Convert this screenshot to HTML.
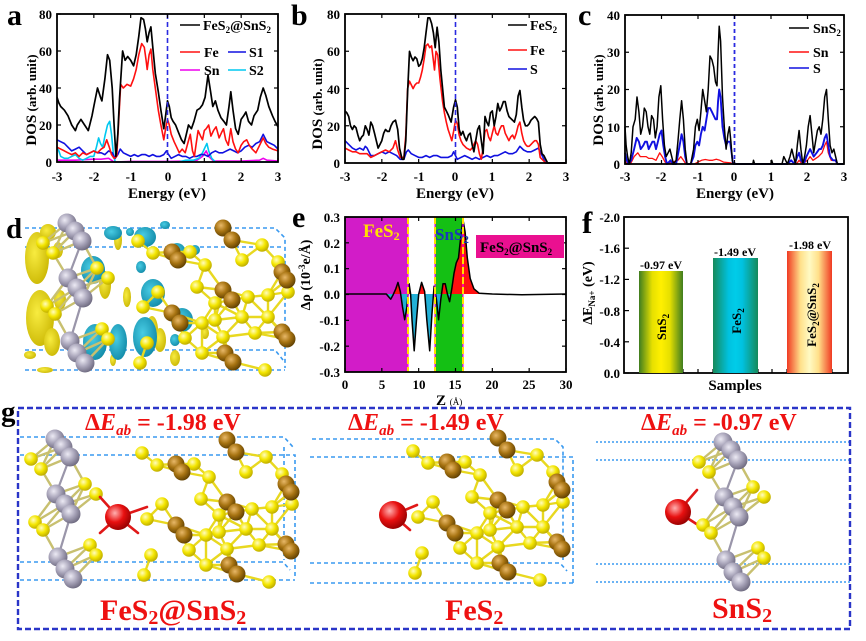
<!DOCTYPE html>
<html><head><meta charset="utf-8"><title>DOS figure</title>
<style>
html,body{margin:0;padding:0;background:#fff;width:866px;height:641px;overflow:hidden}
svg{display:block}
text{font-family:"Liberation Serif","DejaVu Serif",serif;font-weight:bold}
</style></head><body>
<svg id="s" xmlns="http://www.w3.org/2000/svg" width="866" height="641" viewBox="0 0 866 641">
<defs>
<radialGradient id="gSn" cx="0.38" cy="0.35" r="0.7"><stop offset="0" stop-color="#eceaf4"/><stop offset="0.5" stop-color="#a9a5ba"/><stop offset="1" stop-color="#6a667c"/></radialGradient>
<radialGradient id="gS" cx="0.38" cy="0.35" r="0.7"><stop offset="0" stop-color="#fffcc0"/><stop offset="0.5" stop-color="#f4e600"/><stop offset="1" stop-color="#b8a600"/></radialGradient>
<radialGradient id="gFe" cx="0.38" cy="0.35" r="0.7"><stop offset="0" stop-color="#e8b868"/><stop offset="0.5" stop-color="#a87412"/><stop offset="1" stop-color="#5a3c00"/></radialGradient>
<radialGradient id="gNa" cx="0.38" cy="0.35" r="0.7"><stop offset="0" stop-color="#ffb0b0"/><stop offset="0.5" stop-color="#e81010"/><stop offset="1" stop-color="#900000"/></radialGradient>
<radialGradient id="gY" cx="0.4" cy="0.4" r="0.7"><stop offset="0" stop-color="#f8ec40"/><stop offset="1" stop-color="#c8b400"/></radialGradient>
<radialGradient id="gC" cx="0.4" cy="0.4" r="0.7"><stop offset="0" stop-color="#48cce4"/><stop offset="1" stop-color="#0e86a4"/></radialGradient>
<linearGradient id="bSn" x1="0" x2="1" y1="0" y2="0"><stop offset="0" stop-color="#3f7d1f"/><stop offset="0.3" stop-color="#e6e000"/><stop offset="0.5" stop-color="#fff000"/><stop offset="0.7" stop-color="#e6e000"/><stop offset="1" stop-color="#3f7d1f"/></linearGradient>
<linearGradient id="bFe" x1="0" x2="1" y1="0" y2="0"><stop offset="0" stop-color="#168a5a"/><stop offset="0.35" stop-color="#00c2e0"/><stop offset="0.5" stop-color="#00cce8"/><stop offset="0.65" stop-color="#00c2e0"/><stop offset="1" stop-color="#168a5a"/></linearGradient>
<linearGradient id="bFS" x1="0" x2="1" y1="0" y2="0"><stop offset="0" stop-color="#f03a22"/><stop offset="0.3" stop-color="#ffe08a"/><stop offset="0.5" stop-color="#fffac4"/><stop offset="0.7" stop-color="#ffe08a"/><stop offset="1" stop-color="#f03a22"/></linearGradient>
<clipPath id="cUp"><rect x="345" y="217" width="221" height="77"/></clipPath>
<clipPath id="cDn"><rect x="345" y="294" width="221" height="78"/></clipPath>
</defs>
<rect width="866" height="641" fill="#fff"/>

<g id="pd"></g>
<g id="pg"></g>

<rect x="345" y="217" width="63" height="155" fill="#d21cc8"/>
<rect x="435" y="217" width="28" height="155" fill="#14c014"/>

<g id="pa"></g><g id="pb"></g><g id="pc"></g><g id="pe"></g><g id="pf"></g>

<!-- ===== Panel a ===== -->
<text x="7" y="25" font-size="30">a</text>
<g font-size="13" text-anchor="end">
<text x="52" y="19">80</text><text x="52" y="56">60</text><text x="52" y="93">40</text><text x="52" y="130">20</text><text x="52" y="167">0</text>
</g>
<g font-size="13" text-anchor="middle">
<text x="57" y="181">-3</text><text x="94" y="181">-2</text><text x="131" y="181">-1</text><text x="168" y="181">0</text><text x="204" y="181">1</text><text x="241" y="181">2</text><text x="278" y="181">3</text>
</g>
<text x="167" y="198" font-size="15" text-anchor="middle">Energy (eV)</text>
<text transform="translate(36,100) rotate(-90)" font-size="13" text-anchor="middle"><tspan font-size="15">DOS</tspan> (arb. unit)</text>
<g font-size="14">
<line x1="180" y1="25" x2="200" y2="25" stroke="#000" stroke-width="1.6"/>
<text x="203" y="30">FeS<tspan font-size="9" dy="3">2</tspan><tspan dy="-3">@SnS</tspan><tspan font-size="9" dy="3">2</tspan></text>
<line x1="180" y1="52" x2="200" y2="52" stroke="#ff1010" stroke-width="1.6"/><text x="204" y="57">Fe</text>
<line x1="228" y1="52" x2="246" y2="52" stroke="#1010e0" stroke-width="1.6"/><text x="249" y="57">S1</text>
<line x1="180" y1="70" x2="200" y2="70" stroke="#ee00ee" stroke-width="1.6"/><text x="204" y="75">Sn</text>
<line x1="228" y1="70" x2="246" y2="70" stroke="#00c8f0" stroke-width="1.6"/><text x="249" y="75">S2</text>
</g>

<!-- ===== Panel b ===== -->
<text x="291" y="25" font-size="30">b</text>
<g font-size="13" text-anchor="end">
<text x="340" y="19">80</text><text x="340" y="56">60</text><text x="340" y="94">40</text><text x="340" y="131">20</text><text x="340" y="168">0</text>
</g>
<g font-size="13" text-anchor="middle">
<text x="345" y="181">-3</text><text x="382" y="181">-2</text><text x="419" y="181">-1</text><text x="455" y="181">0</text><text x="492" y="181">1</text><text x="529" y="181">2</text><text x="566" y="181">3</text>
</g>
<text x="455" y="198" font-size="15" text-anchor="middle">Energy (eV)</text>
<text transform="translate(322,104) rotate(-90)" font-size="13" text-anchor="middle"><tspan font-size="15">DOS</tspan> (arb. unit)</text>
<g font-size="14">
<line x1="508" y1="25" x2="527" y2="25" stroke="#000" stroke-width="1.6"/>
<text x="530" y="30">FeS<tspan font-size="9" dy="3">2</tspan></text>
<line x1="508" y1="50" x2="527" y2="50" stroke="#ff1010" stroke-width="1.6"/><text x="530" y="55">Fe</text>
<line x1="508" y1="69" x2="527" y2="69" stroke="#1010e0" stroke-width="1.6"/><text x="530" y="74">S</text>
</g>

<!-- ===== Panel c ===== -->
<text x="578" y="25" font-size="30">c</text>
<g font-size="13" text-anchor="end">
<text x="620" y="20">40</text><text x="620" y="57">30</text><text x="620" y="94">20</text><text x="620" y="132">10</text><text x="620" y="169">0</text>
</g>
<g font-size="13" text-anchor="middle">
<text x="625" y="181">-3</text><text x="661" y="181">-2</text><text x="698" y="181">-1</text><text x="734" y="181">0</text><text x="771" y="181">1</text><text x="807" y="181">2</text><text x="844" y="181">3</text>
</g>
<text x="735" y="198" font-size="15" text-anchor="middle">Energy (eV)</text>
<text transform="translate(603,100) rotate(-90)" font-size="13" text-anchor="middle"><tspan font-size="15">DOS</tspan> (arb. unit)</text>
<g font-size="14">
<line x1="789" y1="28" x2="809" y2="28" stroke="#000" stroke-width="1.4"/>
<text x="813" y="33">SnS<tspan font-size="9" dy="3">2</tspan></text>
<line x1="789" y1="52" x2="809" y2="52" stroke="#ff1010" stroke-width="1.6"/><text x="813" y="57">Sn</text>
<line x1="789" y1="68" x2="809" y2="68" stroke="#1010e0" stroke-width="1.6"/><text x="813" y="73">S</text>
</g>

<!-- ===== Panel d label ===== -->
<text x="6" y="238" font-size="29">d</text>

<!-- ===== Panel e ===== -->
<text x="292" y="227" font-size="30">e</text>
<g font-size="13" text-anchor="end">
<text x="340" y="222">0.3</text><text x="340" y="248">0.2</text><text x="340" y="273">0.1</text><text x="340" y="299">0.0</text><text x="340" y="325">-0.1</text><text x="340" y="351">-0.2</text><text x="340" y="377">-0.3</text>
</g>
<g font-size="13" text-anchor="middle">
<text x="345" y="389">0</text><text x="382" y="389">5</text><text x="419" y="389">10</text><text x="455" y="389">15</text><text x="492" y="389">20</text><text x="529" y="389">25</text><text x="566" y="389">30</text>
</g>
<text x="436" y="405" font-size="15">Z <tspan font-size="9" font-weight="normal">(Å)</tspan></text>
<text transform="translate(310,275) rotate(-90)" font-size="14" text-anchor="middle">Δρ (10<tspan font-size="9" dy="-5">-3</tspan><tspan dy="5">e/Å)</tspan></text>
<text x="363" y="237" font-size="19" fill="#ffe000">FeS<tspan font-size="12" dy="3">2</tspan></text>
<text x="435" y="240" font-size="17" fill="#1a3ab8">SnS<tspan font-size="11" dy="3">2</tspan></text>
<rect x="476" y="235" width="88" height="23" fill="#ea1090"/>
<text x="480" y="252" font-size="15" fill="#000">FeS<tspan font-size="9" dy="3">2</tspan><tspan dy="-3">@SnS</tspan><tspan font-size="9" dy="3">2</tspan></text>

<!-- ===== Panel f ===== -->
<text x="582" y="233" font-size="31">f</text>
<g font-size="13" text-anchor="end">
<text x="620" y="222">-2.0</text><text x="620" y="253">-1.6</text><text x="620" y="284">-1.2</text><text x="620" y="316">-0.8</text><text x="620" y="347">-0.4</text><text x="620" y="378">0.0</text>
</g>
<rect x="639" y="271" width="44" height="102" fill="url(#bSn)"/>
<rect x="713" y="258" width="45" height="115" fill="url(#bFe)"/>
<rect x="787" y="251" width="45" height="122" fill="url(#bFS)"/>
<g font-size="12" text-anchor="middle">
<text x="661" y="269">-0.97 eV</text><text x="735" y="256">-1.49 eV</text><text x="810" y="249">-1.98 eV</text>
</g>
<g font-size="13" text-anchor="middle">
<text transform="translate(666,327) rotate(-90)">SnS<tspan font-size="9" dy="3">2</tspan></text>
<text transform="translate(741,321) rotate(-90)">FeS<tspan font-size="9" dy="3">2</tspan></text>
<text transform="translate(816,315) rotate(-90)">FeS<tspan font-size="9" dy="3">2</tspan><tspan dy="-3">@SnS</tspan><tspan font-size="9" dy="3">2</tspan></text>
</g>
<text x="735" y="390" font-size="15" text-anchor="middle">Samples</text>
<text transform="translate(592,293) rotate(-90)" font-size="14" text-anchor="middle">ΔE<tspan font-size="9" dy="3">Na+</tspan><tspan dy="-3"> (eV)</tspan></text>

<!-- ===== Panel g ===== -->
<rect x="18" y="408" width="832" height="221" fill="none" stroke="#2a35c8" stroke-width="2.4" stroke-dasharray="6,3"/>
<text x="1" y="421" font-size="29">g</text>
<g font-size="24" fill="#ee1111">
<text x="85" y="430">Δ<tspan font-style="italic">E</tspan><tspan font-style="italic" font-size="15" dy="5">ab</tspan><tspan dy="-5"> = -1.98 eV</tspan></text>
<text x="348" y="430">Δ<tspan font-style="italic">E</tspan><tspan font-style="italic" font-size="15" dy="5">ab</tspan><tspan dy="-5"> = -1.49 eV</tspan></text>
<text x="641" y="430">Δ<tspan font-style="italic">E</tspan><tspan font-style="italic" font-size="15" dy="5">ab</tspan><tspan dy="-5"> = -0.97 eV</tspan></text>
</g>
<g font-size="30" fill="#ee1111">
<text x="100" y="620">FeS<tspan font-size="20" dy="4">2</tspan><tspan dy="-4">@SnS</tspan><tspan font-size="20" dy="4">2</tspan></text>
<text x="445" y="620">FeS<tspan font-size="20" dy="4">2</tspan></text>
<text x="712" y="618">SnS<tspan font-size="20" dy="4">2</tspan></text>
</g>
</svg>
<script>
const NS="http://www.w3.org/2000/svg";
function el(t,a,p){const e=document.createElementNS(NS,t);for(const k in a)e.setAttribute(k,a[k]);p.appendChild(e);return e;}
function P(d,fx,fy){const s=[];for(let i=0;i<d.length;i+=2)s.push(fx(d[i]).toFixed(1)+","+fy(d[i+1]).toFixed(1));return s.join(" ");}
function L(g,d,fx,fy,c,w){el("polyline",{points:P(d,fx,fy),fill:"none",stroke:c,"stroke-width":w||1.6,"stroke-linejoin":"round"},g);}
function frame(g,x0,y0,x1,y1){el("rect",{x:x0,y:y0,width:x1-x0,height:y1-y0,fill:"none",stroke:"#000","stroke-width":1.8},g);}
function ticks(g,x0,x1,y0,y1,xs,ys,len){
 xs.forEach(x=>{el("line",{x1:x,y1:y1,x2:x,y2:y1-len,stroke:"#000","stroke-width":1.2},g);el("line",{x1:x,y1:y0,x2:x,y2:y0+len,stroke:"#000","stroke-width":1.2},g);});
 ys.forEach(y=>{el("line",{x1:x0,y1:y,x2:x0+len,y2:y,stroke:"#000","stroke-width":1.2},g);el("line",{x1:x1,y1:y,x2:x1-len,y2:y,stroke:"#000","stroke-width":1.2},g);});
}
function rng(a,b,n){const r=[];for(let i=0;i<=n;i++)r.push(a+(b-a)*i/n);return r;}

const aBlack=[-3,35,-2.95,32,-2.9,30,-2.8,28,-2.7,25,-2.6,20,-2.5,17,-2.45,20,-2.35,23,-2.25,20,-2.15,17,-2.05,25,-2.0,30,-1.9,40,-1.82,35,-1.78,33,-1.7,45,-1.63,58,-1.57,55,-1.5,40,-1.45,20,-1.4,3,-1.35,15,-1.3,35,-1.22,60,-1.15,55,-1.08,57,-1.0,55,-0.92,52,-0.85,58,-0.78,68,-0.72,78,-0.65,77,-0.6,72,-0.55,65,-0.5,70,-0.45,73,-0.4,62,-0.33,48,-0.25,38,-0.18,28,-0.1,18,-0.05,25,0,33,0.05,30,0.1,24,0.15,22,0.22,20,0.3,16,0.38,12,0.45,10,0.5,14,0.57,20,0.65,18,0.72,22,0.8,28,0.88,29,0.95,31,1.02,35,1.1,47,1.17,38,1.23,30,1.3,33,1.37,28,1.45,24,1.53,22,1.6,20,1.67,30,1.72,38,1.78,28,1.85,18,1.92,15,2.0,23,2.07,25,2.13,27,2.2,22,2.28,20,2.35,25,2.45,28,2.52,35,2.6,40,2.67,36,2.75,30,2.85,25,2.92,22,3.0,19];
const aRed=[-3,8,-2.9,7,-2.8,6,-2.7,5,-2.6,4,-2.5,5,-2.4,3,-2.3,5,-2.2,4,-2.1,5,-2.0,6,-1.9,5,-1.8,7,-1.72,8,-1.65,12,-1.58,8,-1.52,4,-1.45,2,-1.38,3,-1.33,20,-1.27,42,-1.2,40,-1.1,42,-1.0,41,-0.92,45,-0.85,50,-0.78,58,-0.7,64,-0.63,62,-0.58,55,-0.55,50,-0.5,58,-0.45,61,-0.4,50,-0.33,40,-0.25,28,-0.18,20,-0.1,12,-0.05,18,0,23,0.05,20,0.1,15,0.18,11,0.25,8,0.32,5,0.4,7,0.48,5,0.55,10,0.62,15,0.68,6,0.73,3,0.78,10,0.83,17,0.9,14,0.95,12,1.0,17,1.05,18,1.12,20,1.18,14,1.25,17,1.32,19,1.4,13,1.47,16,1.52,18,1.58,12,1.65,9,1.72,18,1.78,11,1.85,7,1.92,5,2.0,9,2.07,11,2.15,12,2.22,9,2.3,7,2.4,5,2.5,9,2.6,13,2.67,10,2.75,8,2.85,7,3.0,6];
const aBlue=[-3,12,-2.9,11,-2.8,10,-2.7,8,-2.6,6,-2.5,7,-2.4,8,-2.3,6,-2.2,4,-2.1,5,-2.0,6,-1.9,5,-1.8,5,-1.7,4,-1.6,6,-1.5,5,-1.42,2,-1.35,4,-1.28,7,-1.2,5,-1.1,4,-1.0,3,-0.9,4,-0.8,3,-0.7,4,-0.6,4,-0.5,3,-0.4,4,-0.3,3,-0.2,3,-0.1,4,-0.03,6,0.03,4,0.1,2,0.2,3,0.3,4,0.4,3,0.5,3,0.6,2,0.7,3,0.8,3,0.9,4,1.0,4,1.1,3,1.2,5,1.3,6,1.4,5,1.5,5,1.6,6,1.7,7,1.8,6,1.9,5,2.0,6,2.1,8,2.2,9,2.3,8,2.4,10,2.5,11,2.6,15,2.7,11,2.8,10,2.9,9,3.0,7];
const aCyan=[-3,8,-2.95,6,-2.9,3,-2.8,2,-2.7,2,-2.6,3,-2.5,4,-2.4,2,-2.3,1,-2.2,2,-2.1,3,-2.0,3,-1.93,8,-1.87,13,-1.82,10,-1.76,8,-1.7,14,-1.63,20,-1.57,22,-1.52,15,-1.47,5,-1.42,0,-0.5,0,0.3,0,0.5,1,0.7,1,0.85,2,0.95,5,1.02,8,1.07,10,1.12,6,1.2,2,1.3,0,3,0];
const aMag=[-3,1,-2.5,1,-2.0,1.5,-1.8,1.5,-1.6,2,-1.45,0,-1,0.3,0,0.3,0.5,0.5,0.8,1,0.95,3,1.05,6,1.12,3,1.25,0.5,1.5,0.5,2.0,0.5,2.5,1,2.6,2,2.7,1,3,0.5];
(function(){const g=document.getElementById("pa");const fx=E=>57+(E+3)*36.83,fy=v=>162-v*1.85;
L(g,aMag,fx,fy,"#ee00ee");L(g,aCyan,fx,fy,"#00c8f0");L(g,aBlue,fx,fy,"#1010e0");L(g,aRed,fx,fy,"#ff1010");L(g,aBlack,fx,fy,"#000",1.7);
el("line",{x1:167.5,y1:14,x2:167.5,y2:162,stroke:"#2a2ae0","stroke-width":1.6,"stroke-dasharray":"5,3"},g);
frame(g,57,14,278,162);ticks(g,57,278,14,162,rng(57,278,6),rng(14,162,4),4);})();

const bBlack=[-3,28,-2.95,27,-2.9,25,-2.85,20,-2.8,18,-2.75,20,-2.7,19,-2.65,15,-2.6,12,-2.55,14,-2.5,15,-2.45,20,-2.4,18,-2.35,15,-2.3,22,-2.25,20,-2.2,16,-2.15,12,-2.1,8,-2.05,10,-2.0,12,-1.95,16,-1.9,18,-1.85,17,-1.8,17,-1.75,20,-1.7,22,-1.63,23,-1.57,18,-1.52,8,-1.45,2,-1.4,2,-1.35,12,-1.3,38,-1.25,60,-1.2,57,-1.15,55,-1.1,57,-1.05,56,-1.0,52,-0.95,53,-0.9,56,-0.85,62,-0.8,70,-0.75,78,-0.7,78,-0.65,75,-0.6,70,-0.55,62,-0.5,73,-0.45,65,-0.4,50,-0.35,40,-0.3,30,-0.25,28,-0.2,26,-0.12,22,-0.05,30,0,34,0.05,30,0.1,18,0.15,15,0.2,17,0.25,14,0.3,12,0.35,15,0.4,16,0.45,10,0.5,6,0.55,12,0.6,18,0.65,20,0.7,12,0.75,5,0.8,25,0.85,22,0.9,20,0.95,27,1.0,28,1.05,20,1.1,25,1.15,32,1.2,28,1.25,30,1.3,33,1.35,33,1.4,28,1.45,25,1.5,24,1.55,23,1.6,22,1.65,26,1.7,36,1.75,39,1.8,30,1.85,23,1.9,20,1.95,20,2.0,21,2.05,23,2.1,24,2.15,25,2.2,24,2.25,22,2.3,10,2.35,5,2.4,4,2.45,2,2.5,0,3,0];
const bRed=[-3,8,-2.9,7,-2.8,6,-2.7,6,-2.6,5,-2.5,5,-2.4,5,-2.3,3,-2.2,4,-2.1,5,-2.0,6,-1.9,7,-1.8,6,-1.7,8,-1.63,12,-1.57,7,-1.5,3,-1.4,3,-1.35,15,-1.3,40,-1.25,44,-1.2,42,-1.15,40,-1.1,42,-1.05,43,-1.0,43,-0.95,46,-0.9,50,-0.85,56,-0.8,63,-0.75,64,-0.7,62,-0.65,63,-0.6,55,-0.57,50,-0.53,60,-0.48,58,-0.42,45,-0.35,33,-0.3,27,-0.25,22,-0.2,18,-0.15,15,-0.1,12,-0.05,17,0,23,0.05,21,0.1,15,0.15,12,0.2,10,0.3,8,0.4,7,0.45,8,0.5,10,0.55,12,0.6,10,0.65,5,0.7,2,0.75,8,0.8,17,0.85,18,0.9,14,0.95,12,1.0,16,1.05,20,1.1,16,1.15,15,1.2,18,1.25,20,1.3,20,1.35,16,1.4,14,1.45,12,1.5,14,1.55,15,1.6,13,1.65,16,1.7,20,1.75,22,1.8,16,1.85,12,1.9,10,1.95,9,2.0,9,2.05,10,2.1,11,2.15,12,2.2,12,2.25,10,2.3,3,2.4,1,2.45,0,3,0];
const bBlue=[-3,12,-2.9,10,-2.8,8,-2.7,7,-2.6,8,-2.5,7,-2.45,9,-2.4,8,-2.3,4,-2.2,4,-2.1,5,-2.0,6,-1.9,5,-1.8,6,-1.7,5,-1.6,4,-1.5,2,-1.4,2,-1.33,6,-1.28,7,-1.2,5,-1.1,4,-1.0,3,-0.9,3,-0.8,4,-0.7,3,-0.6,4,-0.5,4,-0.4,3,-0.3,3,-0.2,3,-0.1,4,-0.05,6,0,4,0.05,2,0.15,3,0.25,4,0.35,3,0.45,2,0.55,3,0.65,2,0.75,3,0.85,4,0.95,3,1.05,4,1.15,4,1.25,5,1.35,6,1.45,5,1.55,5,1.65,6,1.75,9,1.85,7,1.95,6,2.05,6,2.15,7,2.25,8,2.3,6,2.4,2,2.45,0,3,0];
(function(){const g=document.getElementById("pb");const fx=E=>345+(E+3)*36.83,fy=v=>163-v*1.86;
L(g,bBlue,fx,fy,"#1010e0");L(g,bRed,fx,fy,"#ff1010");L(g,bBlack,fx,fy,"#000",1.7);
el("line",{x1:455.5,y1:14,x2:455.5,y2:163,stroke:"#2a2ae0","stroke-width":1.6,"stroke-dasharray":"5,3"},g);
frame(g,345,14,566,163);ticks(g,345,566,14,163,rng(345,566,6),rng(14,163,4),4);})();

const cBlack=[-3,10,-2.97,5,-2.93,2,-2.88,0,-2.83,3,-2.78,10,-2.72,12,-2.67,18,-2.62,14,-2.57,8,-2.52,10,-2.47,15,-2.42,14,-2.37,10,-2.32,8,-2.27,13,-2.22,12,-2.17,7,-2.12,10,-2.07,18,-2.02,21,-1.97,12,-1.92,5,-1.87,2,-1.82,3,-1.77,4,-1.72,2,-1.67,0,-1.6,1,-1.55,6,-1.5,12,-1.45,17,-1.4,12,-1.35,4,-1.3,0,-1.2,0,-1.12,4,-1.07,10,-1.02,12,-0.97,9,-0.92,14,-0.87,20,-0.82,17,-0.77,14,-0.72,20,-0.67,29,-0.62,28,-0.57,26,-0.52,22,-0.48,21,-0.45,30,-0.42,37,-0.38,33,-0.33,18,-0.28,10,-0.23,4,-0.18,8,-0.14,10,-0.1,6,-0.06,1,-0.03,0,0.5,0,0.52,1,0.55,0,1.0,0,1.02,1,1.05,0,1.3,0,1.35,2,1.4,1,1.45,0,1.52,2,1.57,4,1.62,2,1.67,0,1.72,5,1.77,9,1.82,4,1.87,0,1.92,2,1.97,5,2.02,10,2.07,13,2.12,8,2.17,3,2.22,6,2.27,9,2.32,10,2.37,8,2.42,12,2.47,18,2.52,20,2.57,12,2.62,5,2.67,3,2.72,4,2.77,2,2.82,0,3,0];
const cBlue=[-3,3,-2.95,1,-2.9,0,-2.83,1,-2.75,4,-2.68,7,-2.62,6,-2.57,4,-2.5,5,-2.45,6,-2.4,6,-2.35,4,-2.3,5,-2.25,6,-2.2,6,-2.15,4,-2.1,6,-2.05,8,-2.0,9,-1.95,5,-1.9,2,-1.85,0,-1.75,1,-1.7,0,-1.6,0,-1.52,4,-1.45,8,-1.4,6,-1.35,2,-1.3,0,-1.2,0,-1.12,2,-1.07,5,-1.02,6,-0.97,5,-0.92,8,-0.87,10,-0.82,9,-0.77,12,-0.72,15,-0.67,15,-0.62,14,-0.57,13,-0.52,12,-0.48,12,-0.45,17,-0.42,20,-0.38,18,-0.33,10,-0.28,7,-0.23,5,-0.18,6,-0.12,6,-0.08,3,-0.04,0,1.45,0,1.55,1,1.65,0,1.72,2,1.77,3,1.82,1,1.9,0,1.97,2,2.02,3,2.07,4,2.12,3,2.17,2,2.25,3,2.32,4,2.37,4,2.42,5,2.47,7,2.52,8,2.57,5,2.62,2,2.7,1,2.77,1,2.82,0,3,0];
const cRed=[-3,1,-2.95,0,-2.85,0,-2.75,2,-2.65,3,-2.58,2,-2.5,2,-2.42,2,-2.35,1.5,-2.25,1.5,-2.15,1,-2.05,3,-1.98,2,-1.9,0.5,-1.85,0,-1.55,1,-1.47,2,-1.4,1,-1.33,0,-1.1,0,-1.0,0.5,-0.9,1,-0.8,1.2,-0.7,1,-0.6,1,-0.5,1.3,-0.4,1,-0.3,0.5,-0.1,0.3,-0.05,0,1.7,0,1.77,1,1.85,0,2.0,1,2.07,2,2.15,1,2.3,2,2.4,3,2.47,5,2.52,6,2.57,3,2.65,1,2.75,1,2.82,0,3,0];
(function(){const g=document.getElementById("pc");const fx=E=>625+(E+3)*36.5,fy=v=>164-v*3.725;
L(g,cRed,fx,fy,"#ff1010",1.3);L(g,cBlue,fx,fy,"#1010e0",1.9);L(g,cBlack,fx,fy,"#000",1.5);
el("line",{x1:734.5,y1:15,x2:734.5,y2:164,stroke:"#2a2ae0","stroke-width":1.8,"stroke-dasharray":"4,3"},g);
frame(g,625,15,844,164);ticks(g,625,844,15,164,rng(625,844,6),rng(15,164,4),4);})();

const eData=[0,0,5.6,0,5.9,-0.01,6.2,-0.02,6.5,-0.005,6.9,0.02,7.2,0.045,7.5,0.01,7.8,-0.05,8.1,-0.1,8.4,-0.05,8.7,0.04,8.9,0.0,9.1,-0.1,9.4,-0.22,9.7,-0.1,10.0,0.0,10.4,0.045,10.8,0.01,11.1,-0.1,11.5,-0.22,11.8,-0.08,12.1,0.03,12.4,-0.02,12.7,-0.1,13.0,-0.02,13.3,0.04,13.6,0.04,13.9,0.0,14.2,-0.03,14.5,0.02,14.8,0.08,15.1,0.12,15.4,0.14,15.7,0.22,16.0,0.29,16.3,0.24,16.6,0.14,17.0,0.06,17.5,0.02,18.2,0.003,20,0,24,-0.003,30,0];
(function(){const g=document.getElementById("pe");const fx=z=>345+z*7.367,fy=v=>294-v*258.3;
const poly="345,294 "+P(eData,fx,fy)+" 566,294";
el("polygon",{points:poly,fill:"#ff1010","clip-path":"url(#cUp)"},g);
el("polygon",{points:poly,fill:"#22b0d6","clip-path":"url(#cDn)"},g);
L(g,eData,fx,fy,"#000",1.5);
[408,435,463].forEach(x=>{el("line",{x1:x,y1:217,x2:x,y2:372,stroke:"#ff00ff","stroke-width":1.2},g);el("line",{x1:x,y1:217,x2:x,y2:372,stroke:"#ffe000","stroke-width":2,"stroke-dasharray":"7,3"},g);});
frame(g,345,217,566,372);ticks(g,345,566,217,372,rng(345,566,6),rng(217,372,6),4);})();

(function(){const g=document.getElementById("pf");
frame(g,624,217,848,373);
rng(217,373,5).forEach(y=>el("line",{x1:624,y1:y,x2:629,y2:y,stroke:"#000","stroke-width":1.2},g));
[640,661,683,698,713,735,758,772,787,810,832].forEach(x=>el("line",{x1:x,y1:373,x2:x,y2:369,stroke:"#000","stroke-width":1.2},g));})();

const FE=[[498,438],[507,450],[447,462],[453,470],[498,500],[507,510],[447,523],[455,533],[557,482],[562,490],[557,542],[562,549],[500,563],[508,572]];
const SS=[[413,451],[428,463],[465,462],[480,475],[517,470],[537,455],[553,472],[563,502],[543,505],[523,507],[490,513],[472,497],[433,502],[418,517],[422,553],[415,573],[477,533],[460,548],[498,547],[530,543],[517,527],[543,527],[477,563],[540,580],[490,530]];
const SN=[[723,442],[731,450],[738,460],[724,497],[733,507],[739,517],[726,560],[733,572],[741,582]];
const SC=[[699,462],[709,472],[753,487],[764,497],[703,525],[711,533],[758,548],[764,558]];
function atom(g,x,y,r,t){el("circle",{cx:x,cy:y,r:r,fill:"url(#g"+t+")"},g);}
function bond(g,a,b,c,w){el("line",{x1:a[0],y1:a[1],x2:b[0],y2:b[1],stroke:c,"stroke-width":w||2.4,"stroke-linecap":"round"},g);}
function cluster(g,dx,dy){
 const fe=FE.map(p=>[p[0]+dx,p[1]+dy]),s=SS.map(p=>[p[0]+dx,p[1]+dy]);const all=fe.concat(s);
 for(let i=0;i<all.length;i++)for(let j=i+1;j<all.length;j++){const d=Math.hypot(all[i][0]-all[j][0],all[i][1]-all[j][1]);if(d>16&&d<33)bond(g,all[i],all[j],(i<fe.length&&j<fe.length)?"#b08030":"#e8d820",2.4);}
 s.forEach(p=>atom(g,p[0],p[1],6.8,"S"));fe.forEach(p=>atom(g,p[0],p[1],8.5,"Fe"));}
function column(g,dx,dy){
 const sn=SN.map(p=>[p[0]+dx,p[1]+dy]),sc=SC.map(p=>[p[0]+dx,p[1]+dy]);
 sn.forEach(a=>sc.forEach(b=>{const d=Math.hypot(a[0]-b[0],a[1]-b[1]);if(d<36)bond(g,a,b,"#c8c070",2.4);}));
 bond(g,sn[2],sn[3],"#9a96aa",2.2);bond(g,sn[5],sn[6],"#9a96aa",2.2);
 sc.forEach(p=>atom(g,p[0],p[1],6.8,"S"));sn.forEach(p=>atom(g,p[0],p[1],9.5,"Sn"));}
function dash(g,d,c,w,da){el("path",{d:d,fill:"none",stroke:c||"#3a9af0","stroke-width":w||1.6,"stroke-dasharray":da||"4,3"},g);}

(function(){const g=document.getElementById("pd");
dash(g,"M25,228 L275,228 L285,238 L285,368");dash(g,"M25,247 L282,247");dash(g,"M25,350 L275,350 L283,360");dash(g,"M25,370 L285,370");
const Y=[[37,258,12,26],[40,318,14,28],[52,342,8,14],[48,232,8,8],[30,355,6,4],[45,370,8,3],[118,240,4,10],[105,285,6,14],[127,297,4,10],[152,330,6,14],[160,340,6,12],[100,342,5,16],[175,358,5,8],[205,333,4,6],[60,300,6,10],[113,360,3,6],[58,250,5,8]];
const C=[[93,270,12,14],[95,342,12,18],[118,342,9,18],[153,293,12,14],[145,337,12,20],[113,233,9,7],[145,237,11,10],[141,267,5,6],[177,253,9,10],[182,320,11,12],[195,250,5,5],[165,225,5,4],[175,340,5,6],[130,232,4,4]];
Y.forEach(b=>el("ellipse",{cx:b[0],cy:b[1],rx:b[2],ry:b[3],fill:"url(#gY)"},g));
C.forEach(b=>el("ellipse",{cx:b[0],cy:b[1],rx:b[2],ry:b[3],fill:"url(#gC)"},g));
column(g,-656,-219);cluster(g,-275,-210);})();

(function(){const g=document.getElementById("pg");
dash(g,"M20,437 L284,437 L293,447");dash(g,"M20,455 L295,455 L295,578");dash(g,"M20,562 L283,562 L290,570");dash(g,"M20,580 L295,580");dash(g,"M284,447 L284,560");
dash(g,"M312,439 L555,439 L563,447 L563,560");dash(g,"M310,457 L573,457 L573,583");dash(g,"M310,563 L560,563 L567,571");dash(g,"M310,583 L573,583");
["442","460","564","582"].forEach(y=>dash(g,"M596,"+y+" L851,"+y,"#3a9af0",1.5,"2,2"));
column(g,-668,-3);
bond(g,[118,517],[100,497],"#e01818",2.6);bond(g,[118,517],[100,533],"#e01818",2.6);bond(g,[118,517],[147,507],"#e01818",2.6);bond(g,[118,517],[138,533],"#e01818",2.6);
cluster(g,-271,2);
atom(g,118,517,13,"Na");
bond(g,[393,515],[417,505],"#e01818",2.6);bond(g,[393,515],[410,530],"#e01818",2.6);
cluster(g,0,0);
atom(g,393,515,14,"Na");
bond(g,[678,512],[697,490],"#e01818",2.6);bond(g,[678,512],[698,525],"#e01818",2.6);
column(g,0,0);
atom(g,678,512,13,"Na");
})();
</script>
</body></html>
